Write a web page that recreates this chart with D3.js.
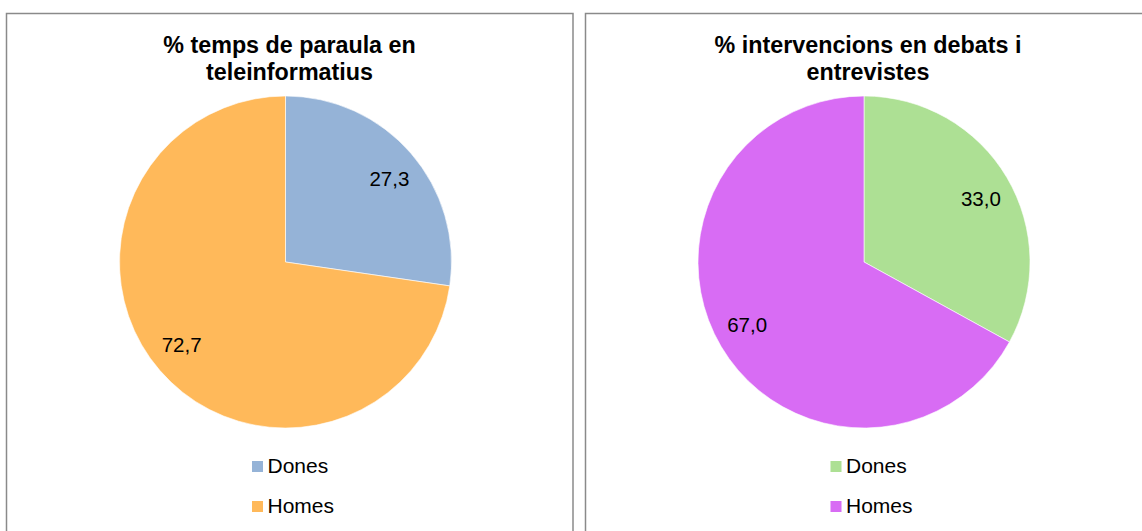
<!DOCTYPE html>
<html>
<head>
<meta charset="utf-8">
<script src="https://d3js.org/d3.v7.min.js"></script>
<style>
body {margin:0; background:white;}
text {font-family: "Liberation Sans", Arial, sans-serif;}
</style>
</head>
<body>
<svg width="1142" height="531"></svg>
<script>
var categories = ["Dones", "Homes"];
var titlesLeft = ["% temps de paraula en", "teleinformatius"];
var titlesRight = ["% intervencions en debats i", "entrevistes"];
var valuesLeft = [27.3, 72.7];
var valuesRight = [33.0, 67.0];
var colorsLeft = ["#95b3d7", "#ffb95a"];
var colorsRight = ["#ade094", "#d86cf4"];

var svg = d3.select("svg");
var radius = 166;

function drawPanel(px, pw, cx, titles, values, colors) {
  // panel frame
  svg.append("rect")
    .attr("x", px).attr("y", 13.5)
    .attr("width", pw).attr("height", 600)
    .attr("fill", "white")
    .attr("stroke", "#8a8a8a")
    .attr("stroke-width", 1.5);

  var g = svg.append("g");

  g.selectAll(".title")
    .data(titles)
    .enter()
    .append("text")
    .attr("x", cx + 4)
    .attr("y", function(d, i) { return 53 + i * 27; })
    .attr("text-anchor", "middle")
    .style("font-size", "23.3px")
    .style("font-weight", "bold")
    .text(function(d) { return d; });

  var data = categories.map(function(c, i) { return {name: c, value: values[i], color: colors[i]}; });
  var pie = d3.pie().sort(null).value(function(d) { return d.value; });
  var arc = d3.arc().innerRadius(0).outerRadius(radius);
  var labelArc = d3.arc().innerRadius(radius * 0.8).outerRadius(radius * 0.8);
  var nudge = 0.04; // excel puts labels a bit further round

  var pg = g.append("g").attr("transform", "translate(" + cx + ",262)");
  pg.selectAll("path")
    .data(pie(data))
    .enter()
    .append("path")
    .attr("d", arc)
    .attr("fill", function(d) { return d.data.color; })
    .attr("stroke", "white")
    .attr("stroke-width", 0.6);

  pg.selectAll(".lbl")
    .data(pie(data))
    .enter()
    .append("text")
    .attr("transform", function(d) {
      var s = {startAngle: d.startAngle + nudge, endAngle: d.endAngle + nudge};
      return "translate(" + labelArc.centroid(s) + ")";
    })
    .attr("text-anchor", "middle")
    .attr("dy", "0.35em")
    .style("font-size", "20.5px")
    .text(function(d) { return d.data.value.toFixed(1).replace(".", ","); });

  // legend
  var lg = g.selectAll(".leg")
    .data(data)
    .enter()
    .append("g")
    .attr("transform", function(d, i) { return "translate(" + (cx - 33.5) + "," + (461 + i * 40) + ")"; });
  lg.append("rect")
    .attr("width", 11).attr("height", 11)
    .attr("fill", function(d) { return d.color; });
  lg.append("text")
    .attr("x", 15.5).attr("y", 12)
    .style("font-size", "21px")
    .text(function(d) { return d.name; });
}

drawPanel(6.5, 566.5, 285.5, titlesLeft, valuesLeft, colorsLeft);
drawPanel(585.5, 600, 864, titlesRight, valuesRight, colorsRight);
</script>
</body>
</html>
